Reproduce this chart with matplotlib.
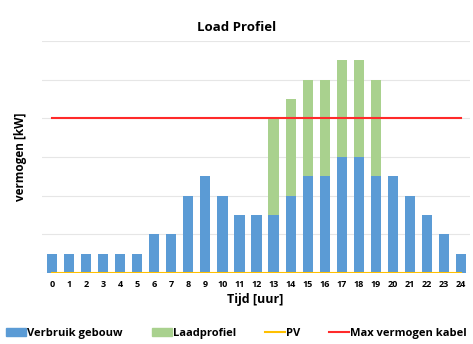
import matplotlib.pyplot as plt
from matplotlib.patches import Patch
from matplotlib.lines import Line2D

plt.rcParams['font.family'] = ['Open Sans', 'DejaVu Sans']

hours = list(range(25))
verbruik = [0.5, 0.5, 0.5, 0.5, 0.5, 0.5, 1, 1, 2, 2.5, 2, 1.5, 1.5, 1.5,
            2, 2.5, 2.5, 3, 3, 2.5, 2.5, 2, 1.5, 1, 0.5]
laadprofiel = [0, 0, 0, 0, 0, 0, 0, 0, 0, 0, 0, 0, 0, 2.5,
               2.5, 2.5, 2.5, 2.5, 2.5, 2.5, 0, 0, 0, 0, 0]
pv = [0] * 25
max_kabel = 4

blue = '#5B9BD5'
green = '#A9D18E'
yellow = '#FFC000'
red = '#FF2A2A'

fig = plt.figure(figsize=(4.73, 3.44), dpi=100)
ax = fig.add_axes([0.088, 0.206, 0.905, 0.675])

ax.bar(hours, verbruik, width=0.6, color=blue, zorder=2)
ax.bar(hours, laadprofiel, width=0.6, bottom=verbruik, color=green, zorder=2)
ax.plot(hours, pv, color=yellow, lw=1.5, zorder=3)
ax.plot([hours[0], hours[-1]], [max_kabel, max_kabel], color=red, lw=1.5, zorder=3)

ax.set_xlim(-0.6, 24.5)
ax.set_ylim(0, 6)
ax.set_yticks([0, 1, 2, 3, 4, 5, 6])
ax.set_yticklabels([])
ax.tick_params(axis='y', length=0)
ax.set_xticks(hours)
ax.set_xticklabels([str(h) for h in hours], fontsize=6.5, fontweight='bold')
ax.tick_params(axis='x', length=0, pad=5)
ax.grid(axis='y', color='#E6E6E6', lw=0.8, zorder=0)
for s in ax.spines.values():
    s.set_visible(False)

ax.set_xlabel('Tijd [uur]', fontsize=9, fontweight='bold', labelpad=3)
ax.set_ylabel('vermogen [kW]', fontsize=8.5, fontweight='bold', labelpad=7)
fig.text(0.5, 0.92, 'Load Profiel', fontsize=9.5, fontweight='bold', ha='center', va='center')

handles = [Patch(color=blue), Patch(color=green),
           Line2D([], [], color=yellow, lw=1.5), Line2D([], [], color=red, lw=1.5)]
labels = ['Verbruik gebouw', 'Laadprofiel', 'PV', 'Max vermogen kabel']
fig.legend(handles, labels, loc='center', bbox_to_anchor=(0.5, 0.03), ncol=4,
           frameon=False, prop={'weight': 'bold', 'size': 8},
           handlelength=1.8, handletextpad=0.1, columnspacing=2.6,
           borderpad=0.2)

fig.savefig('out.png', dpi=100)
